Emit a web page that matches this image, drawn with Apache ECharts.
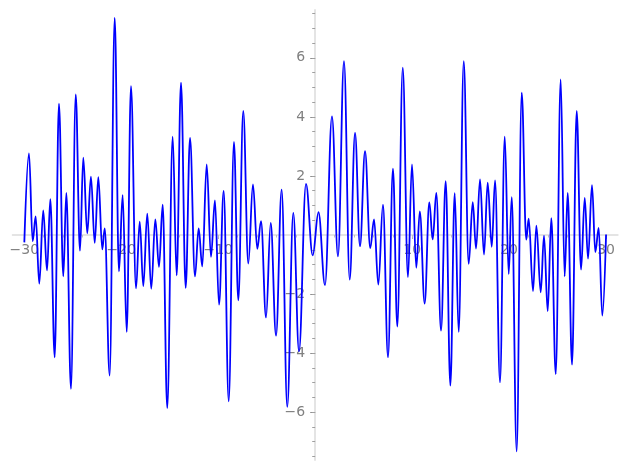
<!DOCTYPE html>
<html><head><meta charset="utf-8">
<script src="https://cdn.jsdelivr.net/npm/echarts@6/dist/echarts.min.js"></script>
<style>html,body{margin:0;padding:0;background:#fff}#c{width:627px;height:470px}</style>
</head><body><div id="c"></div>
<script>
// Extrema of the curve (x, y)
const xVals = [
  -30.00, -29.52, -29.14, -28.83, -28.46, -28.05, -27.66, -27.32, -26.87, -26.43, -25.98, -25.67,
  -25.19, -24.70, -24.26, -23.92, -23.51, -23.13, -22.74, -22.37, -21.96, -21.71, -21.20, -20.68,
  -20.24, -19.86, -19.44, -19.00, -18.48, -18.10, -17.73, -17.32, -16.91, -16.49, -16.11, -15.73,
  -15.26, -14.70, -14.29, -13.84, -13.36, -12.91, -12.40, -12.02, -11.65, -11.19, -10.75, -10.34,
  -9.92, -9.44, -8.92, -8.38, -7.93, -7.42, -6.90, -6.42, -5.97, -5.59, -5.07, -4.59,
  -4.04, -3.46, -2.88, -2.26, -1.67, -0.95, -0.26, 0.34,
  1.01, 1.73, 2.35, 2.97, 3.56, 4.11, 4.62, 5.14, 5.68, 6.07, 6.51, 6.99,
  7.51, 8.02, 8.47, 9.03, 9.57, 9.98, 10.43, 10.79,
  11.29, 11.77, 12.12, 12.49, 12.98, 13.46, 13.94, 14.39, 14.80, 15.32, 15.83, 16.25,
  16.59, 17.00, 17.41, 17.79, 18.21, 18.55, 19.06, 19.55, 19.96, 20.27, 20.78,
  21.30, 21.77, 22.02, 22.47, 22.81, 23.26, 23.60, 23.98, 24.35, 24.81, 25.32, 25.73,
  26.04, 26.49, 26.97, 27.42, 27.80, 28.14, 28.55, 28.89, 29.24, 29.61, 30.00
];
const yVals = [
  -0.25, 2.76, -0.21, 0.63, -1.65, 0.83, -1.20, 1.21, -4.14, 4.45, -1.40, 1.43,
  -5.21, 4.76, -0.53, 2.62, 0.06, 1.98, -0.27, 1.96, -0.49, 0.22, -4.76, 7.36,
  -1.23, 1.35, -3.28, 5.04, -1.81, 0.45, -1.73, 0.72, -1.82, 0.53, -1.08, 1.03,
  -5.86, 3.33, -1.37, 5.16, -1.79, 3.29, -1.40, 0.22, -1.06, 2.39, -0.74, 1.17,
  -2.36, 1.49, -5.63, 3.15, -2.21, 4.20, -0.97, 1.71, -0.47, 0.47, -2.79, 0.41,
  -3.41, 1.54, -5.82, 0.75, -3.94, 1.73, -0.69, 0.77,
  -1.70, 4.02, -0.72, 5.89, -1.51, 3.46, -0.38, 2.84, -0.44, 0.53, -1.68, 1.03,
  -4.14, 2.25, -3.10, 5.67, -1.43, 2.39, -1.11, 0.80,
  -2.32, 1.10, -0.15, 1.43, -3.24, 1.82, -5.10, 1.42, -3.28, 5.89, -0.98, 1.11,
  -0.46, 1.88, -0.66, 1.77, -0.40, 1.85, -4.99, 3.33, -1.32, 1.28, -7.33,
  4.82, -0.16, 0.55, -1.90, 0.32, -1.94, -0.02, -2.58, 0.57, -4.71, 5.27, -1.40,
  1.43, -4.39, 4.20, -1.17, 1.26, -0.80, 1.69, -0.58, 0.24, -2.73, 0.02
];
const xTickLabels = [-30, -20, -10, 10, 20, 30];
const xMinorTicks = [-30, -28, -26, -24, -22, -20, -18, -16, -14, -12, -10, -8, -6, -4, -2,
  2, 4, 6, 8, 10, 12, 14, 16, 18, 20, 22, 24, 26, 28, 30];
const yTickLabels = [-6, -4, -2, 2, 4, 6];
const yMinorTicks = [-7.5, -7, -6.5, -6, -5.5, -5, -4.5, -4, -3.5, -3, -2.5, -2, -1.5, -1, -0.5,
  0.5, 1, 1.5, 2, 2.5, 3, 3.5, 4, 4.5, 5, 5.5, 6, 6.5, 7, 7.5];

const data = xVals.map((x, i) => [x, yVals[i]]);
const fmt = v => String(v).replace('-', '\u2212');
const labelStyle = { color: '#808080', fontSize: 14, fontFamily: 'DejaVu Sans' };
const XR = [-31.2, 31.2], YR = [-7.62, 7.62];

// layout of the plot box
const G = { left: 12.7, right: 9.3, top: 10, bottom: 10 };
const W = 627 - G.left - G.right, H = 470 - G.top - G.bottom;
// pixel offsets that bring the axes to the origin (axes cross at 0,0)
const yOff = -W * (0 - XR[0]) / (XR[1] - XR[0]);
const xOff = -H * (0 - YR[0]) / (YR[1] - YR[0]);

const chart = echarts.init(document.getElementById('c'), null, { renderer: 'canvas' });
chart.setOption({
  animation: false,
  backgroundColor: '#ffffff',
  grid: Object.assign({ containLabel: false, outerBoundsMode: 'none' }, G),
  xAxis: [
    { type: 'value', min: XR[0], max: XR[1], position: 'bottom', offset: xOff,
      axisLine: { onZero: false, lineStyle: { color: '#e4e4e4', width: 2 } },
      axisTick: { customValues: xTickLabels, length: 4, lineStyle: { color: '#b0b0b0', width: 1 } },
      axisLabel: Object.assign({ customValues: xTickLabels, formatter: fmt, margin: 8 }, labelStyle),
      splitLine: { show: false } },
    { type: 'value', min: XR[0], max: XR[1], position: 'bottom', offset: xOff,
      axisLine: { show: false, onZero: false },
      axisTick: { customValues: xMinorTicks, length: 2.5, lineStyle: { color: '#c0c0c0', width: 1 } },
      axisLabel: { show: false }, splitLine: { show: false } }
  ],
  yAxis: [
    { type: 'value', min: YR[0], max: YR[1], position: 'left', offset: yOff,
      axisLine: { onZero: false, lineStyle: { color: '#e4e4e4', width: 2 } },
      axisTick: { customValues: yTickLabels, length: 5, lineStyle: { color: '#909090', width: 1 } },
      axisLabel: Object.assign({ customValues: yTickLabels, formatter: fmt, margin: 10 }, labelStyle),
      splitLine: { show: false } },
    { type: 'value', min: YR[0], max: YR[1], position: 'left', offset: yOff,
      axisLine: { show: false, onZero: false },
      axisTick: { customValues: yMinorTicks, length: 3, lineStyle: { color: '#a0a0a0', width: 1 } },
      axisLabel: { show: false }, splitLine: { show: false } }
  ],
  series: [{
    type: 'line', xAxisIndex: 0, yAxisIndex: 0, data: data,
    showSymbol: false, smooth: 0.38, smoothMonotone: 'x',
    lineStyle: { color: '#0000ff', width: 1.8 }
  }]
});
</script></body></html>
